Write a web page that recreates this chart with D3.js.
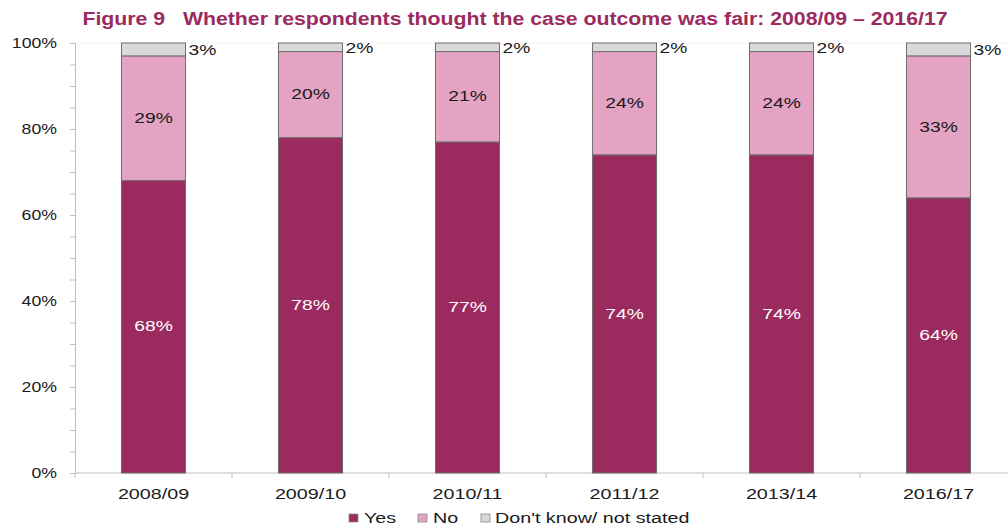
<!DOCTYPE html>
<html>
<head>
<meta charset="utf-8">
<script src="https://cdn.jsdelivr.net/npm/d3@7"></script>
<style>
  html, body { margin: 0; padding: 0; background: #fff; }
  svg { display: block; font-family: "Liberation Sans", Arial, sans-serif; }
</style>
</head>
<body>
<svg id="chart" width="1008" height="526"></svg>
<script>
// Survey years
const years = ["2008/09", "2009/10", "2010/11", "2011/12", "2013/14", "2016/17"];
// Share of respondents (%) for each answer
const yes = [68, 78, 77, 74, 74, 64];
const no = [29, 20, 21, 24, 24, 33];
const dontKnow = [3, 2, 2, 2, 2, 3];
const seriesNames = ["Yes", "No", "Don't know/ not stated"];
const yTickLabels = ["0%", "20%", "40%", "60%", "80%", "100%"];

const colors = { "Yes": "#9b2a5f", "No": "#e5a3c4", "Don't know/ not stated": "#d9d9d9" };
const SX = 1.33; // horizontal stretch of the typeface
const FS = 14.5;

const svg = d3.select("#chart");

const rows = years.map((y, i) => ({
  year: y, "Yes": yes[i], "No": no[i], "Don't know/ not stated": dontKnow[i]
}));
const stacked = d3.stack().keys(seriesNames)(rows);

const x = d3.scaleBand().domain(years).range([75, 1017]).paddingInner(0.592).paddingOuter(0.296);
const y = d3.scaleLinear().domain([0, 100]).range([473, 43]);

// stretched text helper
function stext(g, px, py, str, opts = {}) {
  const t = g.append("text")
    .attr("transform", `translate(${px},${py}) scale(${opts.sx || SX},1)`)
    .attr("text-anchor", opts.anchor || "middle")
    .attr("dominant-baseline", "central")
    .attr("font-size", opts.size || FS)
    .attr("fill", opts.fill || "#1a1a1a")
    .text(str);
  if (opts.weight) t.attr("font-weight", opts.weight);
  return t;
}

// Title
const title = svg.append("text")
  .attr("font-size", 19).attr("font-weight", "bold").attr("fill", "#9b2a5f")
  .attr("text-anchor", "middle")
  .text("Figure 9   Whether respondents thought the case outcome was fair: 2008/09 \u2013 2016/17")
  .attr("xml:space", "preserve").style("white-space", "pre");
const tw = title.node().getComputedTextLength();
title.attr("transform", `translate(515,25) scale(${866 / tw},1)`);

// plot frame top line (faint)
svg.append("line").attr("x1", 75).attr("x2", 1008).attr("y1", 43).attr("y2", 43)
  .attr("stroke", "#f2f2f2");

// Y axis
const yAxisG = svg.append("g").attr("transform", "translate(75,0)");
yAxisG.call(d3.axisLeft(y).tickValues(d3.range(0, 101, 5)).tickSize(5).tickFormat(""))
  .call(g => g.select(".domain").attr("stroke", "#bfbfbf"))
  .call(g => g.selectAll(".tick line").attr("stroke", "#bfbfbf"));
yTickLabels.forEach((lab, i) => {
  stext(svg, 57, y(i * 20), lab, { anchor: "end", sx: 1.22 });
});

// X axis
const xAxisG = svg.append("g").attr("transform", "translate(0,473)");
xAxisG.append("line").attr("x1", 75).attr("x2", 1017).attr("stroke", "#bfbfbf");
const boundaries = d3.range(0, years.length + 1).map(i => 75 + i * x.step());
xAxisG.selectAll("line.tk").data(boundaries).join("line")
  .attr("class", "tk").attr("x1", d => d).attr("x2", d => d)
  .attr("y1", 0).attr("y2", 5).attr("stroke", "#bfbfbf");
years.forEach(yr => {
  stext(svg, x(yr) + x.bandwidth() / 2, 494, yr, { sx: 1.36 });
});

// Bars
const layers = svg.append("g").selectAll("g").data(stacked).join("g")
  .attr("fill", d => colors[d.key]);
layers.selectAll("rect").data(d => d).join("rect")
  .attr("x", d => x(d.data.year))
  .attr("width", x.bandwidth())
  .attr("y", d => y(d[1]))
  .attr("height", d => y(d[0]) - y(d[1]))
  .attr("stroke", "#6e6e6e").attr("stroke-width", 1);

// Value labels
const labels = svg.append("g");
stacked.forEach(layer => {
  layer.forEach(d => {
    const v = d[1] - d[0];
    const cx = x(d.data.year) + x.bandwidth() / 2;
    const cy = y((d[0] + d[1]) / 2);
    if (layer.key === "Yes") {
      stext(labels, cx, cy, v + "%", { fill: "#ffffff" });
    } else if (layer.key === "No") {
      stext(labels, cx, cy, v + "%", { fill: "#1a1a1a" });
    } else {
      stext(labels, x(d.data.year) + x.bandwidth() + 3, cy + 1, v + "%", { anchor: "start" });
    }
  });
});

// Legend
const legend = svg.append("g");
const legendItems = [
  { key: "Yes", sx: 349, tx: 364 },
  { key: "No", sx: 418, tx: 433 },
  { key: "Don't know/ not stated", sx: 481, tx: 495 }
];
legendItems.forEach(it => {
  legend.append("rect").attr("x", it.sx).attr("y", 514).attr("width", 9).attr("height", 8)
    .attr("fill", colors[it.key]).attr("stroke", "#8c8c8c").attr("stroke-width", 0.8);
  stext(legend, it.tx, 518, it.key, { anchor: "start", sx: 1.36 });
});
</script>
</body>
</html>
